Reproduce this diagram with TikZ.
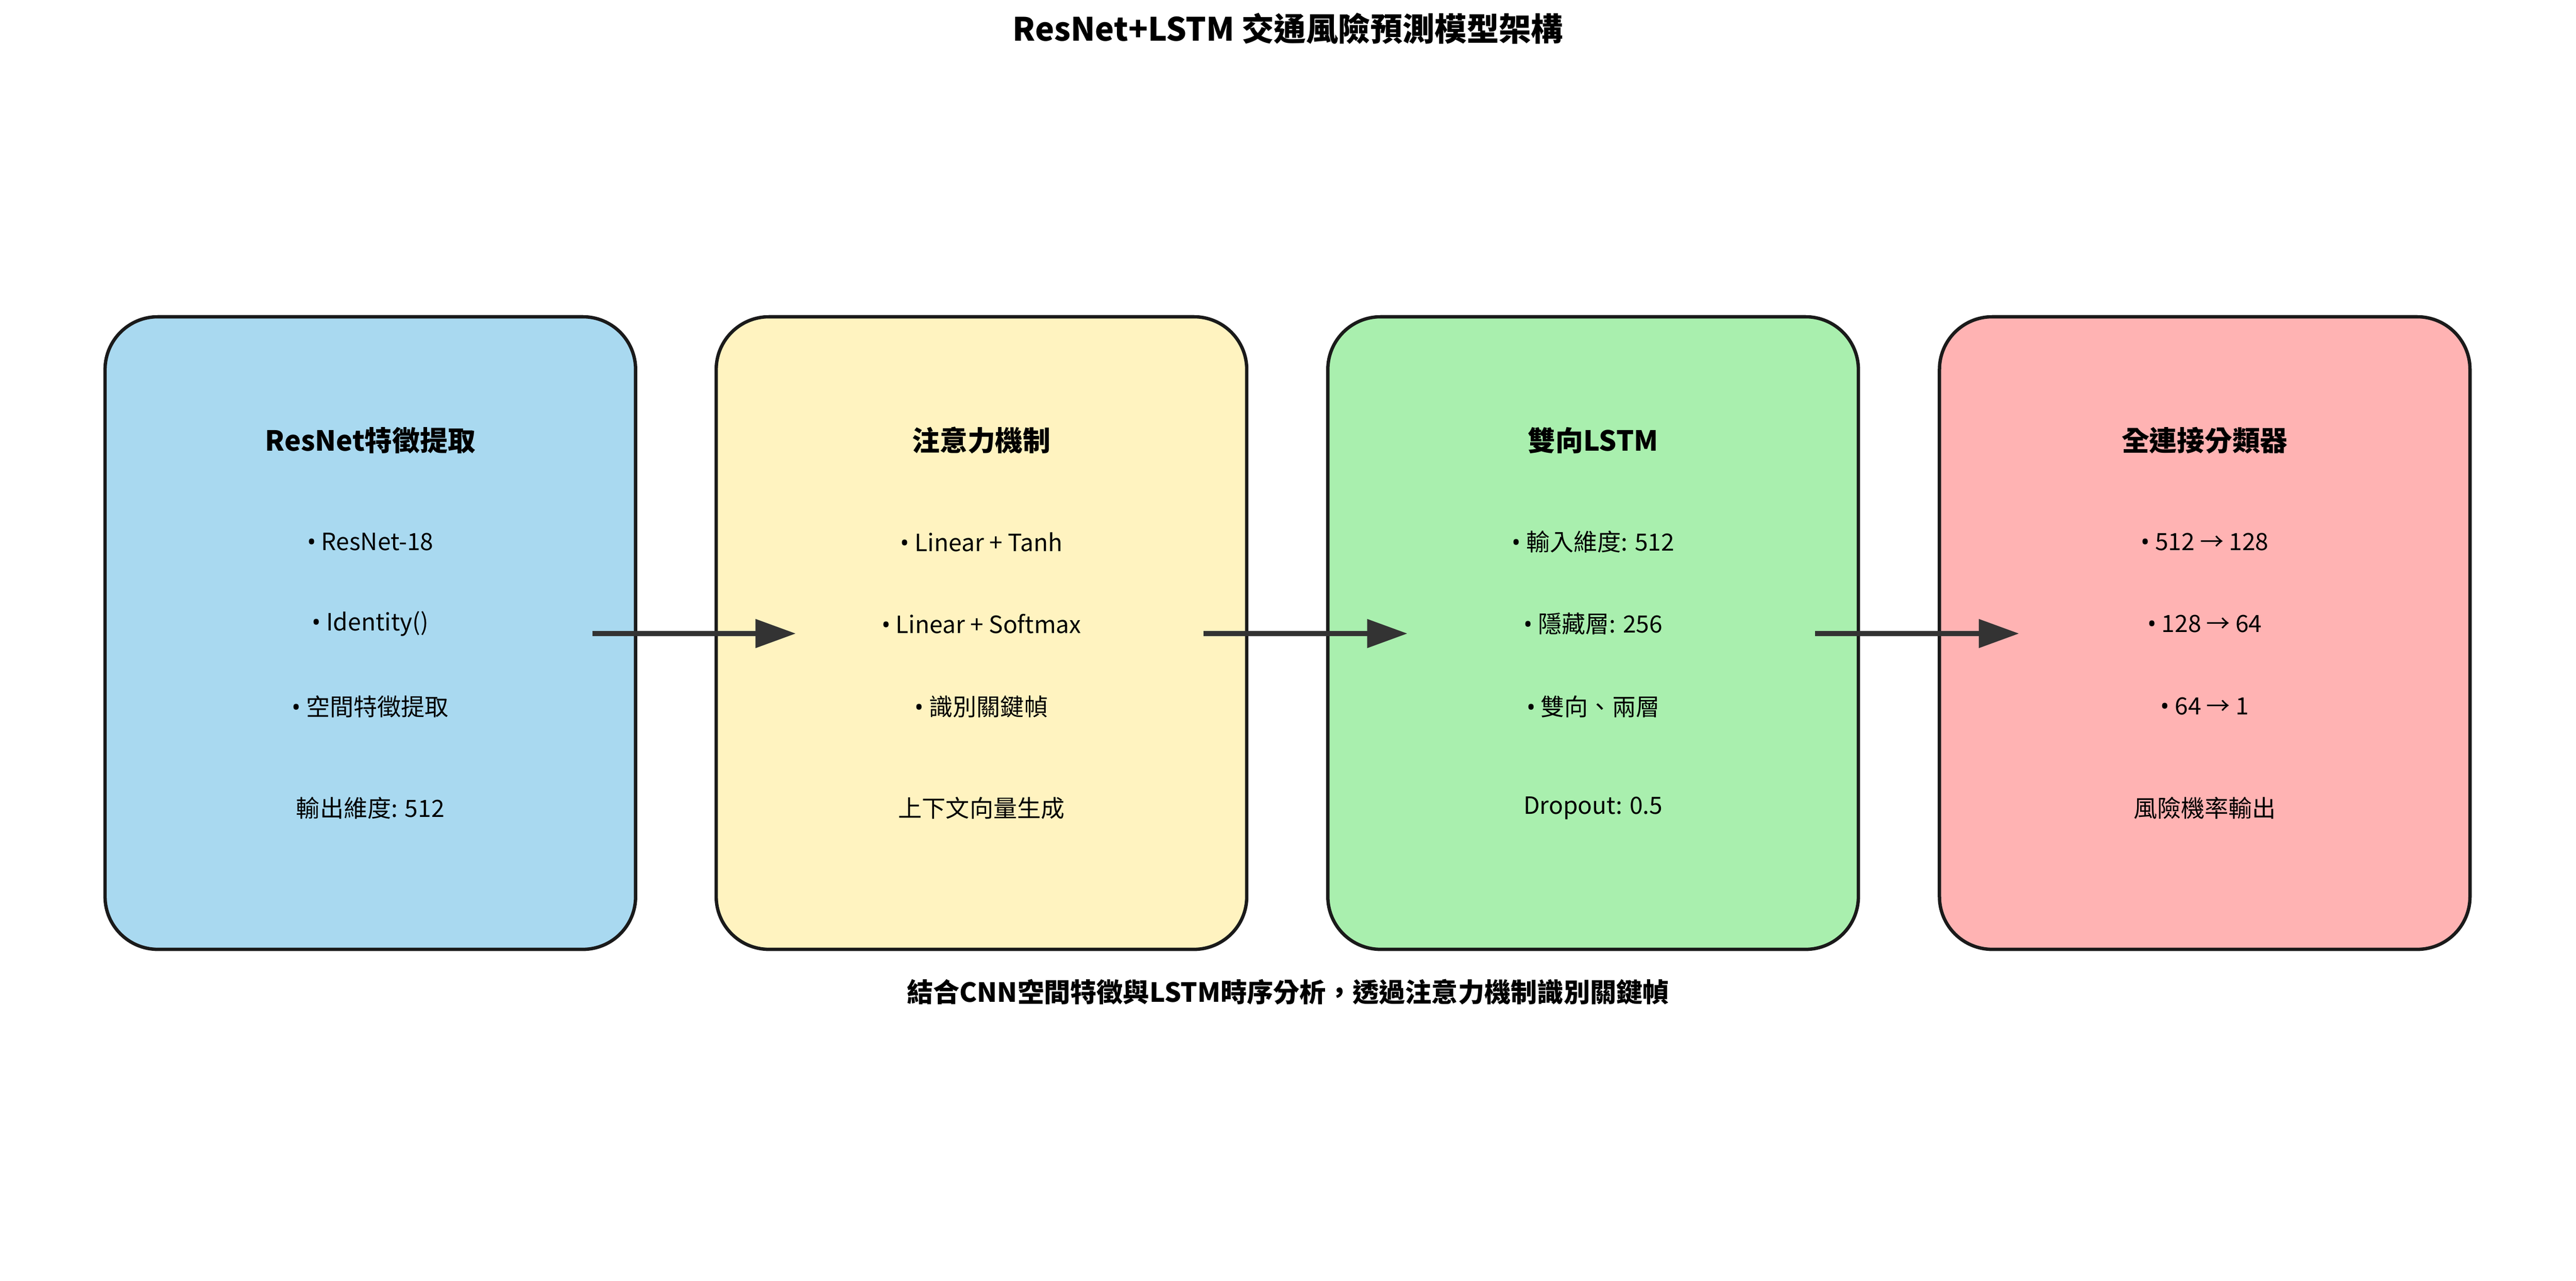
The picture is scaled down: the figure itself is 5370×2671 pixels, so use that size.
\documentclass[tikz,border=0pt]{standalone}
\usepackage{fontspec}
\setmainfont{Noto Sans CJK TC}
\newfontfamily\bulletfont{Noto Sans}
\newcommand\mybullet{{\bulletfont •}\ }
\usetikzlibrary{arrows.meta,calc}
\definecolor{cblue}{HTML}{A9D9F0}
\definecolor{cyellow}{HTML}{FFF3C0}
\definecolor{cgreen}{HTML}{A9EFAE}
\definecolor{cred}{HTML}{FFB3B3}
\definecolor{edgec}{HTML}{1A1A1A}
\definecolor{arrowc}{HTML}{333333}
\tikzset{
  stagebox/.style={draw=edgec, line width=7pt, rounded corners=110pt,
    minimum width=1106pt, minimum height=1319pt, inner sep=0pt},
  boxtitle/.style={font=\fontsize{57.75}{60}\selectfont\bfseries, inner sep=0pt, anchor=center},
  boxitem/.style={font=\fontsize{49.5}{52}\selectfont, inner sep=0pt, anchor=center},
  flowarrow/.style={draw=arrowc, line width=10pt, -{Triangle[length=84pt,width=58pt]}},
}
\begin{document}
\begin{tikzpicture}[x=1pt,y=-1pt]
\useasboundingbox[fill=white] (0,0) rectangle (5370,2671);
\node[font=\fontsize{67}{70}\selectfont\bfseries, inner sep=0pt] (title) at (2685,60) {ResNet+LSTM 交通風險預測模型架構};

\node[stagebox, fill=cblue] (b1) at (772,1320) {};
\node[stagebox, fill=cyellow] (b2) at (2046,1320) {};
\node[stagebox, fill=cgreen] (b3) at (3321,1320) {};
\node[stagebox, fill=cred] (b4) at (4596,1320) {};

% box 1
\node[boxtitle] (t1) at ($(b1.center)+(0,-402)$) {ResNet特徵提取};
\node[boxitem] (t1a) at ($(b1.center)+(0,-190)$) {\mybullet ResNet-18};
\node[boxitem] (t1b) at ($(b1.center)+(0,-19)$) {\mybullet Identity()};
\node[boxitem] (t1c) at ($(b1.center)+(0,153)$) {\mybullet 空間特徵提取};
\node[boxitem] (t1d) at ($(b1.center)+(0,365)$) {輸出維度: 512};
% box 2
\node[boxtitle] (t2) at ($(b2.center)+(0,-402)$) {注意力機制};
\node[boxitem] (t2a) at ($(b2.center)+(0,-190)$) {\mybullet Linear + Tanh};
\node[boxitem] (t2b) at ($(b2.center)+(0,-19)$) {\mybullet Linear + Softmax};
\node[boxitem] (t2c) at ($(b2.center)+(0,153)$) {\mybullet 識別關鍵幀};
\node[boxitem] (t2d) at ($(b2.center)+(0,365)$) {上下文向量生成};
% box 3
\node[boxtitle] (t3) at ($(b3.center)+(0,-402)$) {雙向LSTM};
\node[boxitem] (t3a) at ($(b3.center)+(0,-190)$) {\mybullet 輸入維度: 512};
\node[boxitem] (t3b) at ($(b3.center)+(0,-19)$) {\mybullet 隱藏層: 256};
\node[boxitem] (t3c) at ($(b3.center)+(0,153)$) {\mybullet 雙向、兩層};
\node[boxitem] (t3d) at ($(b3.center)+(0,365)$) {Dropout: 0.5};
% box 4
\node[boxtitle] (t4) at ($(b4.center)+(0,-402)$) {全連接分類器};
\node[boxitem] (t4a) at ($(b4.center)+(0,-190)$) {\mybullet 512 → 128};
\node[boxitem] (t4b) at ($(b4.center)+(0,-19)$) {\mybullet 128 → 64};
\node[boxitem] (t4c) at ($(b4.center)+(0,153)$) {\mybullet 64 → 1};
\node[boxitem] (t4d) at ($(b4.center)+(0,365)$) {風險機率輸出};

% arrows
\coordinate (a1s) at ($(b1.center)+(463,1)$);
\coordinate (a1e) at ($(b2.center)+(-387,1)$);
\coordinate (a2s) at ($(b2.center)+(463,1)$);
\coordinate (a2e) at ($(b3.center)+(-387,1)$);
\coordinate (a3s) at ($(b3.center)+(463,1)$);
\coordinate (a3e) at ($(b4.center)+(-387,1)$);
\draw[flowarrow] (a1s) -- (a1e);
\draw[flowarrow] (a2s) -- (a2e);
\draw[flowarrow] (a3s) -- (a3e);

\node[font=\fontsize{55}{58}\selectfont\bfseries, inner sep=0pt] (cap) at (2685,2068) {結合CNN空間特徵與LSTM時序分析，透過注意力機制識別關鍵幀};
\end{tikzpicture}
\end{document}
